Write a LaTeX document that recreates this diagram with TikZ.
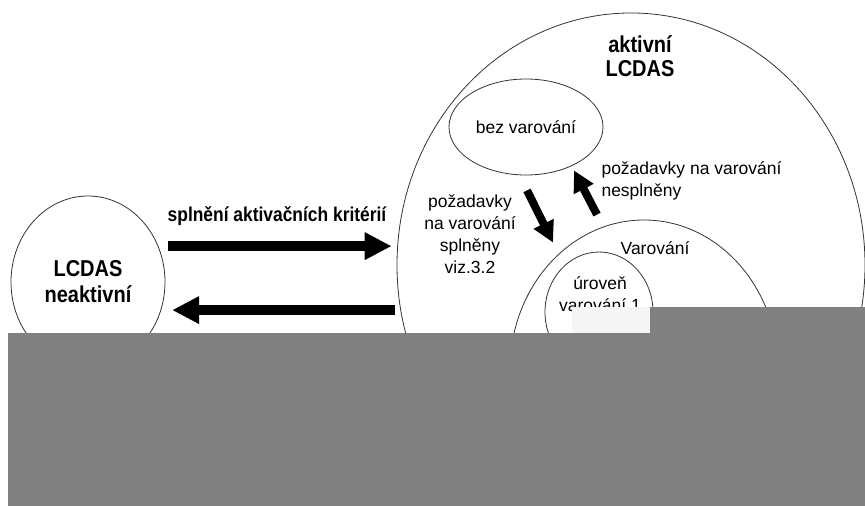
\documentclass[tikz,border=0pt]{standalone}
\usepackage{fontspec}
\setmainfont{Liberation Sans}
\newfontfamily\narrowbold{Liberation Sans}[FakeStretch=0.87]
\usetikzlibrary{shapes.geometric,arrows.meta,calc}
\definecolor{boxgray}{RGB}{128,128,128}

\begin{document}
\begin{tikzpicture}[x=1pt,y=-1pt,
				state/.style ={ellipse, draw=black!80, line width=0.8pt, inner sep=0pt},
				title_text/.style ={font=\narrowbold\fontsize{23}{26}\selectfont\bfseries, align=center},
				label_text/.style ={font=\fontsize{17.5}{22}\selectfont},
				big_line/.style ={draw, line width=10pt, -{Triangle[length=27pt,width=26pt]}},
				mid_line/.style ={draw, line width=8pt, -{Triangle[length=21pt,width=21pt]}}]
				\useasboundingbox (0,0) rectangle (865,506);
				% the two main states
				\node [state, minimum width=154pt, minimum height=172pt, title_text] (neaktivni) at (88,282) {LCDAS\\neaktivní};
				\node [state, minimum width=468pt, minimum height=504pt] (aktivni) at (631,265) {};
				\node [title_text, font=\narrowbold\fontsize{23}{24}\selectfont\bfseries] (aktivniTitle) at (640,56) {aktivní\\LCDAS};
				% states inside the active one
				\node [state, minimum width=154pt, minimum height=96pt, label_text] (bez) at (526,127) {bez varování};
				\node [state, minimum width=268pt, minimum height=300pt] (varovani) at (644,370) {};
				\node [label_text] (varovaniTitle) at (655,248) {Varování};
				\node [state, minimum width=108pt, minimum height=120pt] (uroven) at (599,312) {};
				\node [label_text, align=center] (urovenTitle) at (600,294) {úroveň\\varování 1};
				% labels of the transitions
				\node [font=\narrowbold\fontsize{20}{22}\selectfont\bfseries] (aktivace) at (277,216) {splnění aktivačních kritérií};
				\node [label_text, align=center] (splneny) at (470,234) {požadavky\\na varování\\splněny\\viz.3.2};
				\node [label_text, align=left, anchor=west] (nesplneny) at (598,181) {požadavky na varování\\nesplněny};
				% connecting nodes with paths
				\begin{scope}[every path/.style=big_line]
					\path [shorten <=10pt, shorten >=5pt] (neaktivni.27) -- (neaktivni.27 -| aktivni.west);
					\path [shorten <=2pt, shorten >=11pt] (neaktivni.-21 -| aktivni.west) -- (neaktivni.-21);
				\end{scope}
				\begin{scope}[every path/.style=mid_line]
					\path ($(bez.south)+(1,15)$) -- ($(varovani.north)+(-91,23)$);
					\path ($(varovani.north)+(-47,-5)$) -- ($(bez.south)+(48,-5)$);
				\end{scope}
				% covered part of the picture
				\fill [black!4] (572,307) rectangle (650,333);
				\fill [boxgray] (8,333) -| (650,307) -| (865,506) -| cycle;
			\end{tikzpicture}
\end{document}
